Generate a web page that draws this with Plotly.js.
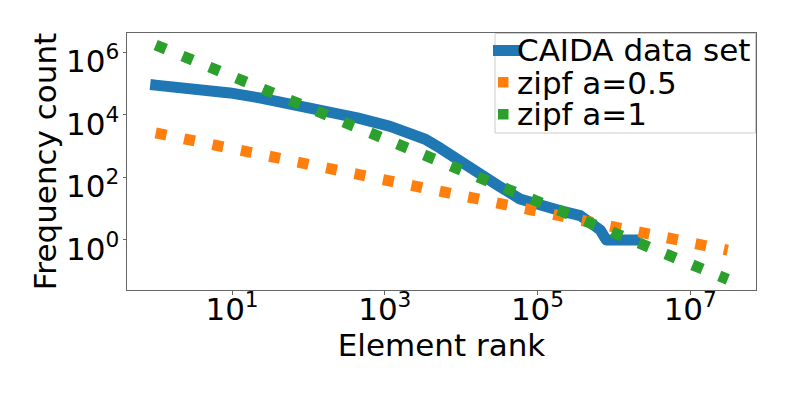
<!DOCTYPE html>
<html><head><meta charset="utf-8">
<script src="https://cdn.plot.ly/plotly-3.0.1.min.js"></script>
<style>
html,body{margin:0;padding:0;background:#fff;} #chart{width:789px;height:395px;}
#chart .scatterlayer .trace:first-child path.js-line{stroke-linecap:square;stroke-linejoin:round;}
</style>
</head><body><div id="chart"></div>
<script>
// CAIDA data set (rank vs frequency)
const caidaRank  = [1, 2.8, 6.9, 9.4, 23, 58, 155, 437, 1175, 2140, 3390, 5370, 8320, 13200, 20900, 32400, 58900, 107000, 195000, 363000, 537000, 661000, 794000, 1900000];
const caidaCount = [89000, 69000, 63000, 50000, 34700, 23000, 12900, 7940, 4270, 2690, 1660, 851, 407, 180, 95, 50, 20.4, 12.6, 8.7, 6.0, 3.2, 2.1, 1, 1];
// zipf a=0.5
const zipf05Rank  = [1, 10, 100, 1000, 10000, 100000, 1000000, 10000000, 31000000];
const zipf05Count = [2630, 830, 263, 83, 26.3, 8.3, 2.63, 0.83, 0.47];
// zipf a=1
const zipf1Rank  = [1, 10, 100, 1000, 10000, 100000, 1000000, 10000000, 31000000];
const zipf1Count = [1700000, 170000, 17000, 1700, 170, 17, 1.7, 0.17, 0.055];
// tick labels
const xTickVals = [10, 1000, 100000, 10000000];
const xTickText = ['10<sup>1</sup>', '10<sup>3</sup>', '10<sup>5</sup>', '10<sup>7</sup>'];
const yTickVals = [1, 100, 10000, 1000000];
const yTickText = ['10<sup>0</sup>', '10<sup>2</sup>', '10<sup>4</sup>', '10<sup>6</sup>'];
const seriesNames = ['CAIDA data set', 'zipf a=0.5', 'zipf a=1'];
const colors = ['#1f77b4', '#ff7f0e', '#2ca02c'];

const FONT = 'DejaVu Sans, sans-serif';
const FS = 31;
const L = 127, T = 33, W = 629, H = 257;
const px = x => (x - L) / W;
const py = y => (T + H - y) / H;

const dotDash = '11px,18px';
const traces = [
  {x: caidaRank, y: caidaCount, name: seriesNames[0], mode: 'lines',
   line: {color: colors[0], width: 11}},
  {x: zipf05Rank, y: zipf05Count, name: seriesNames[1], mode: 'lines',
   line: {color: colors[1], width: 11, dash: dotDash}},
  {x: zipf1Rank, y: zipf1Count, name: seriesNames[2], mode: 'lines',
   line: {color: colors[2], width: 11, dash: dotDash}}
];

const axisCommon = {
  type: 'log', showgrid: false, zeroline: false,
  showline: true, mirror: true, linecolor: '#666', linewidth: 1,
  ticks: 'outside', ticklen: 3.5, tickwidth: 1, tickcolor: '#666',
  tickfont: {family: FONT, size: FS, color: '#000'},
  tickmode: 'array'
};

const legendRows = [50.2, 82.6, 114.2];
const shapes = [
  {type: 'rect', xref: 'paper', yref: 'paper', x0: px(495), x1: px(755.5), y0: py(133), y1: py(33.5),
   line: {color: '#cccccc', width: 1}, fillcolor: 'rgba(255,255,255,0.8)', layer: 'above'},
  {type: 'line', xref: 'paper', yref: 'paper', x0: px(493), x1: px(520), y0: py(50.5), y1: py(50.5),
   line: {color: colors[0], width: 11}, layer: 'above'},
  {type: 'rect', xref: 'paper', yref: 'paper', x0: px(498), x1: px(508.5), y0: py(87.5), y1: py(77),
   line: {width: 0}, fillcolor: colors[1], layer: 'above'},
  {type: 'rect', xref: 'paper', yref: 'paper', x0: px(498), x1: px(508.5), y0: py(119.5), y1: py(109),
   line: {width: 0}, fillcolor: colors[2], layer: 'above'}
];
const annotations = seriesNames.map((n, i) => ({
  text: n, xref: 'paper', yref: 'paper', x: px(516), y: py(legendRows[i]),
  xanchor: 'left', yanchor: 'middle', showarrow: false, borderpad: 0,
  font: {family: FONT, size: FS, color: '#000'}
}));

const layout = {
  width: 789, height: 395,
  margin: {l: L, r: 789 - L - W, t: T, b: 395 - T - H, pad: 0},
  paper_bgcolor: '#fff', plot_bgcolor: '#fff',
  showlegend: false,
  font: {family: FONT, size: FS, color: '#000'},
  xaxis: Object.assign({}, axisCommon, {
    range: [-0.3756, 7.861], tickvals: xTickVals, ticktext: xTickText,
    ticklabelstandoff: -12,
    title: {text: 'Element rank', font: {family: FONT, size: FS, color: '#000'}, standoff: 5}
  }),
  yaxis: Object.assign({}, axisCommon, {
    range: [-1.60, 6.615], tickvals: yTickVals, ticktext: yTickText,
    ticklabelshift: 9, ticklabelstandoff: -3,
    title: {text: 'Frequency count', font: {family: FONT, size: FS, color: '#000'}, standoff: 0}
  }),
  shapes: shapes,
  annotations: annotations
};

Plotly.newPlot('chart', traces, layout, {staticPlot: true, displayModeBar: false});
</script>
</body></html>
